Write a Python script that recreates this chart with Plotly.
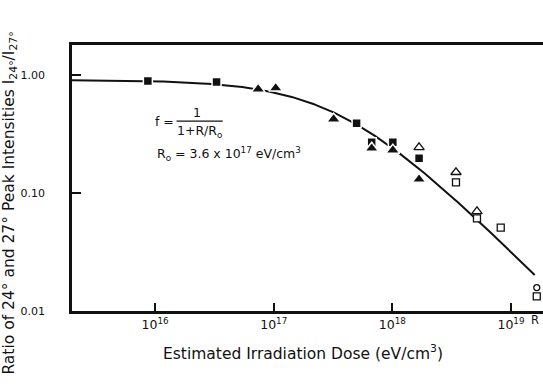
import numpy as np
import plotly.graph_objects as go

# Measured intensity ratios I24/I27 versus estimated dose (eV/cm^3)
filled_sq_R = [8.7e15, 3.3e16, 5.0e17, 6.7e17, 1.01e18, 1.68e18]
filled_sq_f = [0.889, 0.872, 0.391, 0.270, 0.270, 0.197]
filled_tri_R = [7.4e16, 1.04e17, 3.2e17, 6.7e17, 1.01e18, 1.68e18]
filled_tri_f = [0.760, 0.776, 0.423, 0.240, 0.231, 0.131]
open_tri_R = [1.68e18, 3.44e18, 5.17e18]
open_tri_f = [0.244, 0.150, 0.070]
open_sq_R = [3.44e18, 5.17e18, 8.2e18, 1.65e19]
open_sq_f = [0.123, 0.061, 0.051, 0.0133]
open_circ_R = [1.65e19]
open_circ_f = [0.0158]

# Model f = 1/(1+R/R0), scaled to the low-dose plateau
R0 = 3.6e17
PLATEAU = 0.91
curve_R = np.logspace(15.3, 19.2, 300)
curve_f = PLATEAU / (1 + curve_R / R0)

x_ticks = [1e16, 1e17, 1e18, 1e19]
x_tick_text = ["10<sup>16</sup>", "10<sup>17</sup>", "10<sup>18</sup>", "10<sup>19</sup>"]
y_ticks = [1.0, 0.1, 0.01]
y_tick_text = ["1.00", "0.10", "0.01"]

INK = "#111111"
FONT = "DejaVu Sans"

fig = go.Figure()
fig.add_trace(go.Scatter(x=curve_R, y=curve_f, mode="lines",
                         line=dict(color=INK, width=2), hoverinfo="skip"))

def pts(R, f, symbol, fill, size):
    fig.add_trace(go.Scatter(
        x=R, y=f, mode="markers",
        marker=dict(symbol=symbol, size=size, color=fill,
                    line=dict(color=INK if fill == "white" else "white",
                              width=1.3 if fill == "white" else 1.5))))

pts(filled_sq_R, filled_sq_f, "square", INK, 9)
pts(filled_tri_R, filled_tri_f, "triangle-up", INK, 12)
pts(open_tri_R, open_tri_f, "triangle-up", "white", 9)
pts(open_sq_R, open_sq_f, "square", "white", 7)
pts(open_circ_R, open_circ_f, "circle", "white", 6)

annotations = [
    dict(text="Ratio of 24° and 27° Peak Intensities I<sub>24°</sub>/I<sub>27°</sub>",
         xref="paper", yref="paper", x=-0.131, y=0.405, textangle=-90,
         showarrow=False, xanchor="center", yanchor="middle",
         font=dict(size=15.5, color=INK, family=FONT)),
    dict(text="Estimated Irradiation Dose (eV/cm<sup>3</sup>)",
         xref="paper", yref="paper", x=0.49, y=-0.155,
         showarrow=False, xanchor="center", yanchor="middle",
         font=dict(size=15.5, color=INK, family=FONT)),
    dict(text="R", xref="paper", yref="paper", x=0.982, y=-0.035,
         showarrow=False, xanchor="center", yanchor="middle",
         font=dict(size=11.5, color=INK, family=FONT)),
    dict(text="f =", xref="paper", yref="paper", x=0.197, y=0.714,
         showarrow=False, xanchor="center", yanchor="middle",
         font=dict(size=12.5, color=INK, family=FONT)),
    dict(text="1", xref="paper", yref="paper", x=0.265, y=0.748,
         showarrow=False, xanchor="center", yanchor="middle",
         font=dict(size=12.5, color=INK, family=FONT)),
    dict(text="1+R/R<sub>o</sub>", xref="paper", yref="paper", x=0.27, y=0.675,
         showarrow=False, xanchor="center", yanchor="middle",
         font=dict(size=12.5, color=INK, family=FONT)),
    dict(text="R<sub>o</sub> = 3.6 x 10<sup>17</sup> eV/cm<sup>3</sup>",
         xref="paper", yref="paper", x=0.176, y=0.59,
         showarrow=False, xanchor="left", yanchor="middle",
         font=dict(size=12.5, color=INK, family=FONT)),
]

fig.update_layout(
    width=543, height=389,
    margin=dict(l=72, r=0, t=45, b=78),
    paper_bgcolor="white", plot_bgcolor="white",
    showlegend=False,
    annotations=annotations,
    shapes=[dict(type="line", xref="paper", yref="paper",
                 x0=0.222, x1=0.320, y0=0.714, y1=0.714,
                 line=dict(color=INK, width=1.3))],
    xaxis=dict(type="log", range=[15.30, 19.27], tickvals=x_ticks,
               ticktext=x_tick_text, ticks="inside", ticklen=8, tickwidth=2,
               tickcolor=INK, showline=True, linecolor=INK, linewidth=2.5,
               mirror=True, showgrid=False, zeroline=False,
               tickfont=dict(size=12.5, color=INK, family=FONT)),
    yaxis=dict(type="log", range=[-2.0, 0.255], tickvals=y_ticks,
               ticktext=y_tick_text, ticks="inside", ticklen=9, tickwidth=2,
               tickcolor=INK, showline=True, linecolor=INK, linewidth=2.5,
               showgrid=False, zeroline=False, ticklabelstandoff=22,
               tickfont=dict(size=11, color=INK, family=FONT)),
)

fig.write_html("out.html")
